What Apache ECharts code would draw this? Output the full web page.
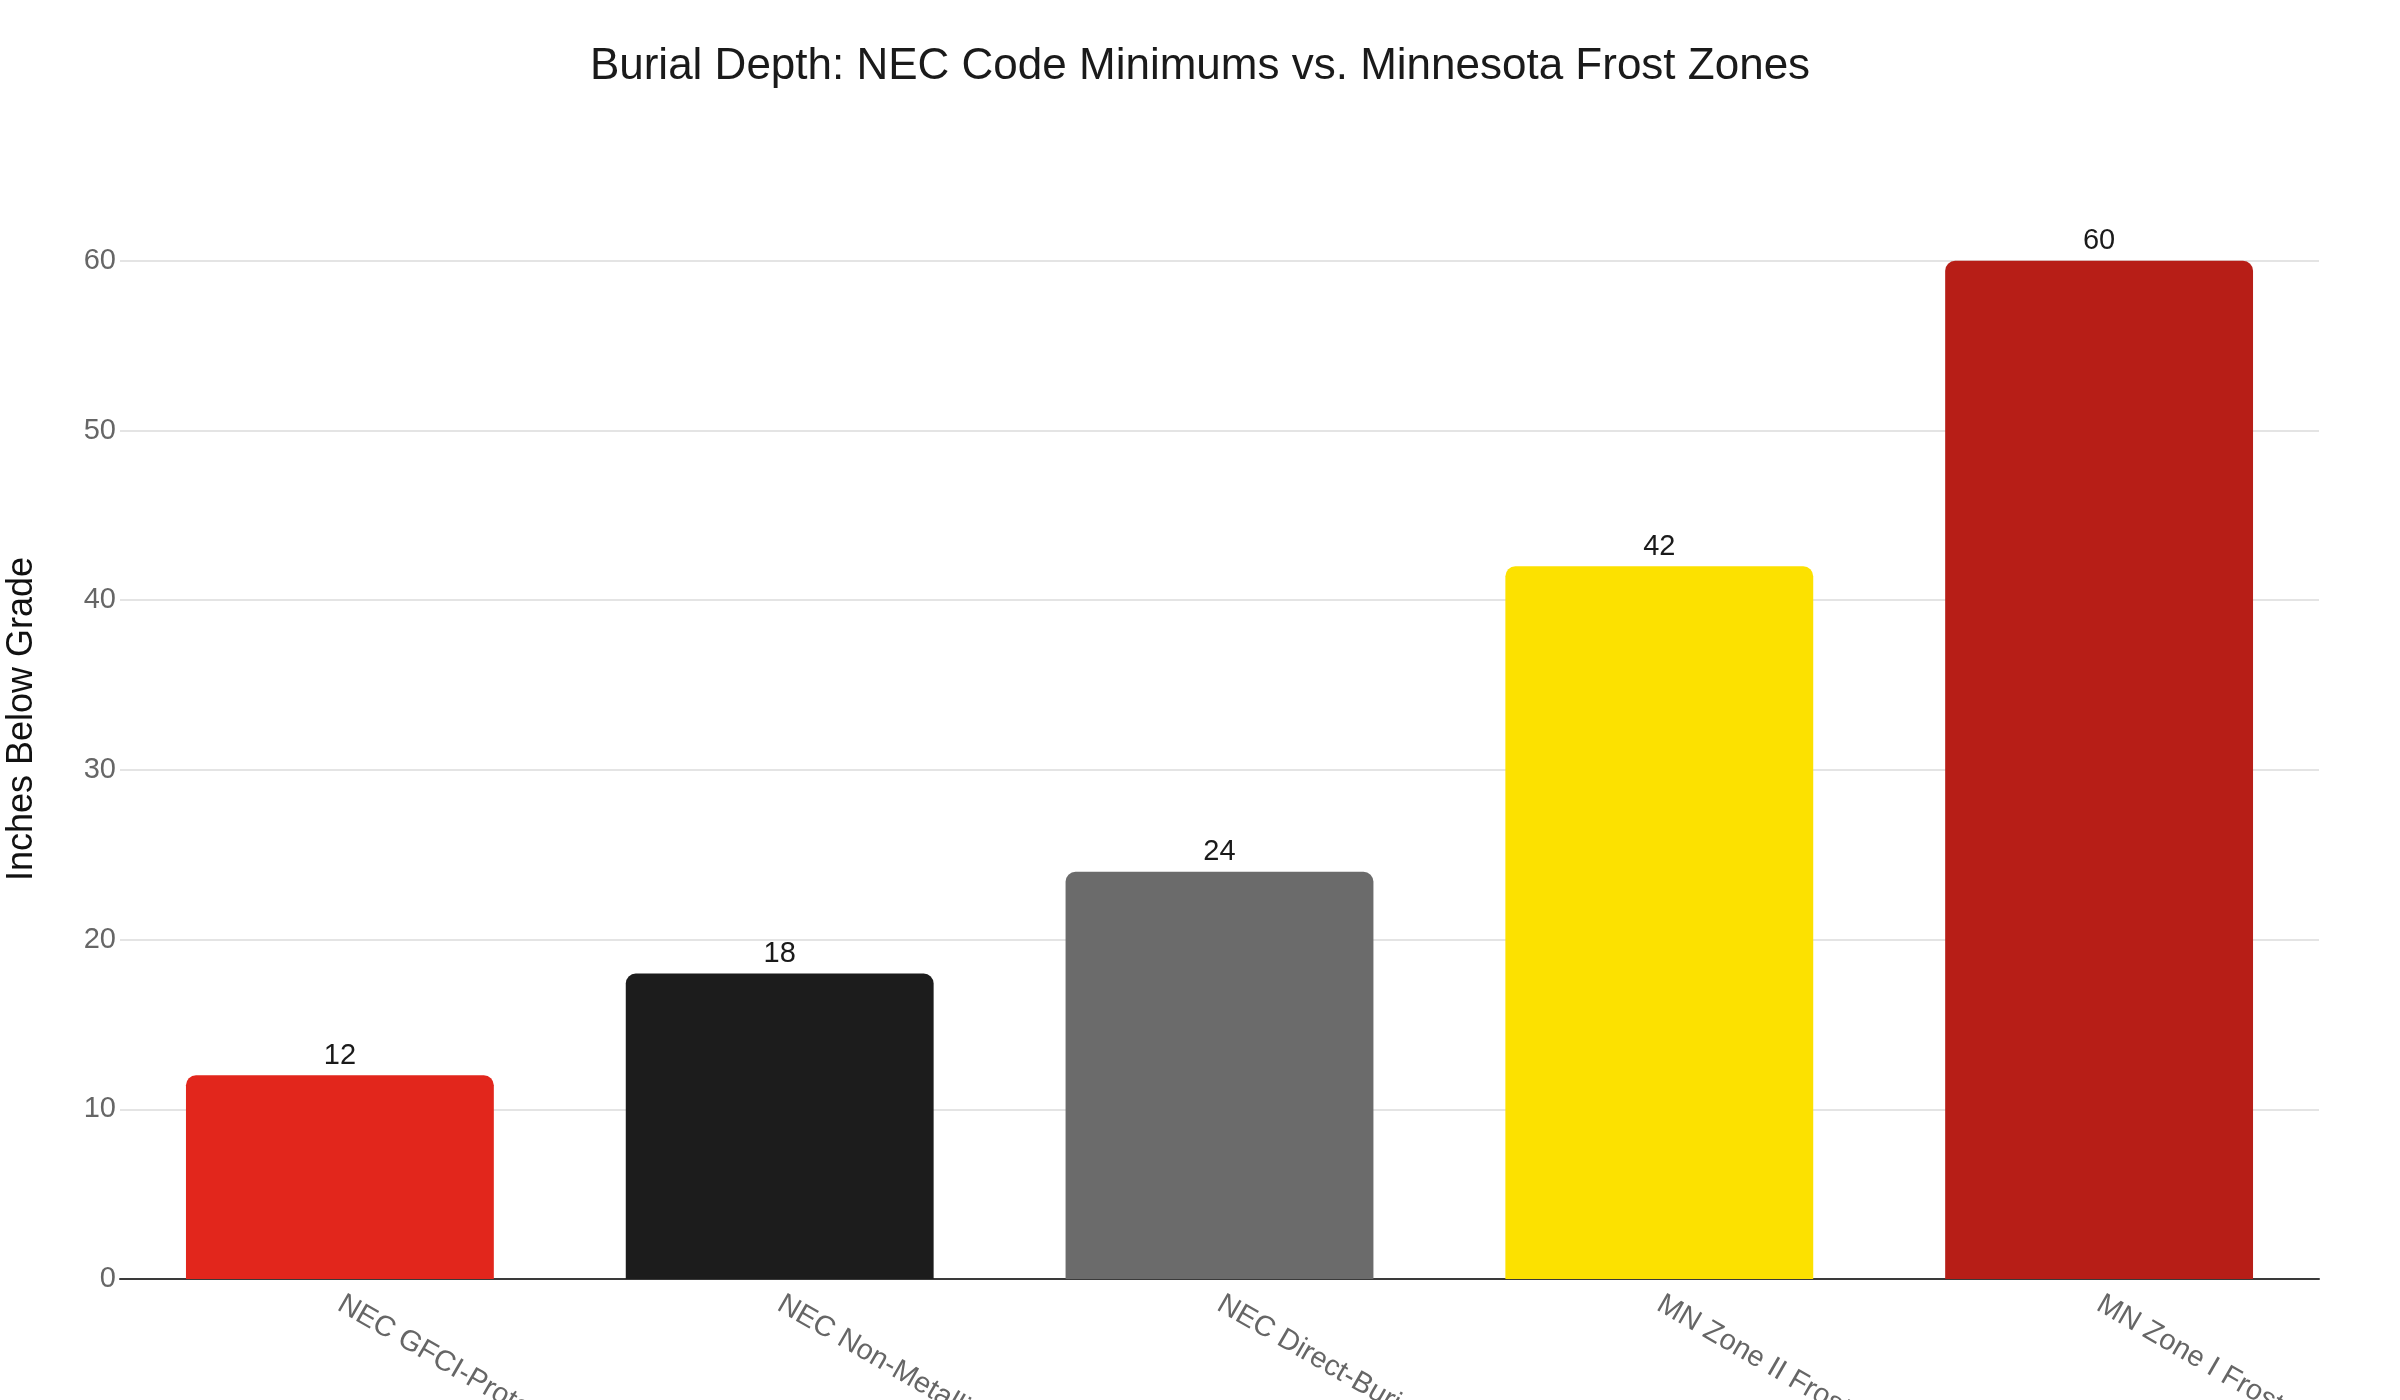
<html>
<head>
    <meta charset="utf-8">
    <script type="text/javascript" src="https://cdn.jsdelivr.net/npm/echarts@6/dist/echarts.min.js"></script>
    <style>
        html, body { margin: 0; padding: 0; background: #fff; }
    </style>
</head>

<body>
<div id="main" style="width:2400px; height:1400px;"></div>

<script>
    // data
    var categories = [
        'NEC GFCI-Protected Residential Circuits',
        'NEC Non-Metallic Conduit (PVC)',
        'NEC Direct-Burial Cable (UF)',
        'MN Zone II Frost Depth',
        'MN Zone I Frost Depth'
    ];
    var depths = [12, 18, 24, 42, 60];
    var barColors = ['#E2261C', '#1C1C1C', '#6B6B6B', '#FCE100', '#B71E17'];

    var font = '"Liberation Sans", Arial, Helvetica, sans-serif';

    var myChart = echarts.init(document.getElementById('main'));

    var option = {
        backgroundColor: '#ffffff',
        title: {
            text: 'Burial Depth: NEC Code Minimums vs. Minnesota Frost Zones',
            left: 'center',
            top: 40,
            textStyle: {
                fontFamily: font,
                fontSize: 44,
                fontWeight: 'normal',
                color: '#1a1a1a'
            }
        },
        grid: {
            left: 120,
            right: 81,
            top: 159,
            bottom: 121,
            containLabel: false,
            outerBoundsMode: 'none'
        },
        xAxis: {
            type: 'category',
            data: categories,
            axisLine: { lineStyle: { color: '#3a3a3a', width: 2 } },
            axisTick: { show: false },
            axisLabel: {
                interval: 0,
                rotate: -30,
                margin: 23,
                fontFamily: font,
                fontSize: 29,
                color: '#666666'
            }
        },
        yAxis: {
            type: 'value',
            min: 0,
            max: 66,
            interval: 10,
            name: 'Inches Below Grade',
            nameLocation: 'middle',
            nameGap: 80,
            nameTextStyle: {
                fontFamily: font,
                fontSize: 36,
                color: '#111111'
            },
            axisLine: { show: false },
            axisTick: { show: false },
            axisLabel: {
                margin: 4,
                showMaxLabel: false,
                fontFamily: font,
                fontSize: 29,
                color: '#666666'
            },
            splitLine: {
                showMaxLine: false,
                lineStyle: { color: '#e4e4e4', width: 2 }
            }
        },
        series: [
            {
                name: 'Depth',
                type: 'bar',
                barCategoryGap: '30%',
                data: depths.map(function (v, i) {
                    return { value: v, itemStyle: { color: barColors[i] } };
                }),
                itemStyle: { borderRadius: [10, 10, 0, 0] },
                label: {
                    show: true,
                    position: 'top',
                    distance: 5,
                    fontFamily: font,
                    fontSize: 29,
                    color: '#1a1a1a'
                }
            }
        ],
        animation: false
    };

    myChart.setOption(option);
</script>

</body>
</html>
